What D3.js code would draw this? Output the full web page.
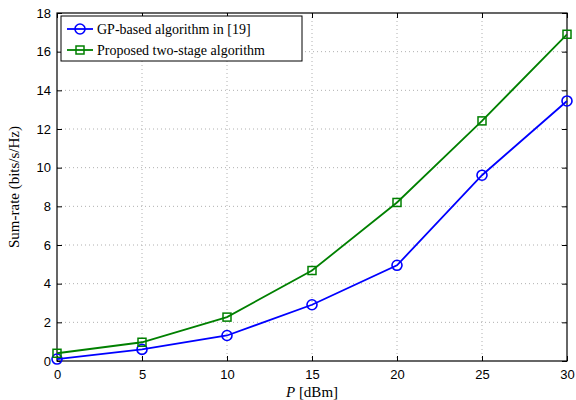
<!DOCTYPE html>
<html>
<head>
<meta charset="utf-8">
<script src="https://cdn.jsdelivr.net/npm/d3@7"></script>
<style>
  body { margin: 0; background: #fff; }
  .tick text { font-family: "Liberation Sans", Arial, sans-serif; font-size: 13px; fill: #000; }
  .grid line { stroke: #b0b0b0; stroke-dasharray: 1,3; }
</style>
</head>
<body>
<div id="chart"></div>
<script>
// power values (dBm) and sum-rates
let power = [0, 5, 10, 15, 20, 25, 30]
let gpRate = [0.1, 0.6, 1.32, 2.91, 4.95, 9.61, 13.45]
let proposedRate = [0.4, 0.97, 2.27, 4.68, 8.2, 12.42, 16.9]
let xTicks = [0, 5, 10, 15, 20, 25, 30]
let yTicks = [0, 2, 4, 6, 8, 10, 12, 14, 16, 18]
let seriesNames = ["GP-based algorithm in [19]", "Proposed two-stage algorithm"]

let width = 576, height = 400
let margin = {top: 13, right: 9, bottom: 39, left: 57}
let w = width - margin.left - margin.right
let h = height - margin.top - margin.bottom

let svg = d3.select('#chart')
    .append('svg')
    .attr('width', width)
    .attr('height', height)
    .append('g')
    .attr('transform', "translate(" + margin.left + "," + margin.top + ")")

let x = d3.scaleLinear().domain([0, 30]).range([0, w])
let y = d3.scaleLinear().domain([0, 18]).range([h, 0])

// grid
svg.append('g').attr('class', 'grid')
    .selectAll('line').data(xTicks.slice(1, -1)).enter().append('line')
    .attr('x1', d => x(d)).attr('x2', d => x(d))
    .attr('y1', 0).attr('y2', h)
svg.append('g').attr('class', 'grid')
    .selectAll('line').data(yTicks.slice(1, -1)).enter().append('line')
    .attr('x1', 0).attr('x2', w)
    .attr('y1', d => y(d)).attr('y2', d => y(d))

// axes, ticks pointing inward
let xAxis = svg.append('g')
    .attr('transform', "translate(0," + h + ")")
    .call(d3.axisBottom(x).tickValues(xTicks).tickSize(-5).tickPadding(9))
let yAxis = svg.append('g')
    .call(d3.axisLeft(y).tickValues(yTicks).tickSize(-5).tickPadding(6))
svg.append('g')
    .call(d3.axisTop(x).tickValues(xTicks).tickSize(-5).tickFormat(''))
svg.append('g')
    .attr('transform', "translate(" + w + ",0)")
    .call(d3.axisRight(y).tickValues(yTicks).tickSize(-5).tickFormat(''))
svg.selectAll('.domain').remove()
svg.selectAll('.tick line').attr('stroke', '#000')

svg.append('rect')
    .attr('width', w).attr('height', h)
    .attr('fill', 'none').attr('stroke', '#000').attr('stroke-width', 1.2)

let line = d3.line()
    .x((d, i) => x(power[i]))
    .y(d => y(d))

// GP-based series
svg.append('path').datum(gpRate)
    .attr('d', line).attr('fill', 'none')
    .attr('stroke', '#0000ff').attr('stroke-width', 1.8)
svg.selectAll('.gp').data(gpRate).enter().append('circle')
    .attr('cx', (d, i) => x(power[i])).attr('cy', d => y(d))
    .attr('r', 5).attr('fill', 'none')
    .attr('stroke', '#0000ff').attr('stroke-width', 1.6)

// proposed series
svg.append('path').datum(proposedRate)
    .attr('d', line).attr('fill', 'none')
    .attr('stroke', '#008000').attr('stroke-width', 1.8)
svg.selectAll('.prop').data(proposedRate).enter().append('rect')
    .attr('x', (d, i) => x(power[i]) - 4).attr('y', d => y(d) - 4)
    .attr('width', 8).attr('height', 8).attr('fill', 'none')
    .attr('stroke', '#008000').attr('stroke-width', 1.5)

// legend
let legend = svg.append('g').attr('transform', "translate(4,3)")
legend.append('rect')
    .attr('width', 241).attr('height', 45)
    .attr('fill', '#fff').attr('stroke', '#000').attr('stroke-width', 1)
let colors = ['#0000ff', '#008000']
seriesNames.forEach(function(name, i) {
    let ly = 13 + i * 21
    legend.append('line')
        .attr('x1', 6).attr('x2', 32).attr('y1', ly).attr('y2', ly)
        .attr('stroke', colors[i]).attr('stroke-width', 1.8)
    if (i == 0) {
        legend.append('circle').attr('cx', 19).attr('cy', ly).attr('r', 5)
            .attr('fill', 'none').attr('stroke', colors[i]).attr('stroke-width', 1.6)
    } else {
        legend.append('rect').attr('x', 15).attr('y', ly - 4).attr('width', 8).attr('height', 8)
            .attr('fill', 'none').attr('stroke', colors[i]).attr('stroke-width', 1.5)
    }
    legend.append('text')
        .attr('x', 36).attr('y', ly + 5)
        .style('font-family', '"Liberation Serif", "Times New Roman", serif')
        .style('font-size', '14px')
        .text(name)
})

// axis labels
svg.append('text')
    .attr('transform', "translate(-38," + (h / 2) + ") rotate(-90)")
    .attr('text-anchor', 'middle')
    .style('font-family', '"Liberation Serif", "Times New Roman", serif')
    .style('font-size', '15px')
    .text('Sum-rate (bits/s/Hz)')

let xl = svg.append('text')
    .attr('x', w / 2).attr('y', h + 36)
    .attr('text-anchor', 'middle')
    .style('font-family', '"Liberation Serif", "Times New Roman", serif')
    .style('font-size', '15px')
xl.append('tspan').style('font-style', 'italic').text('P')
xl.append('tspan').text(' [dBm]')
</script>
</body>
</html>
